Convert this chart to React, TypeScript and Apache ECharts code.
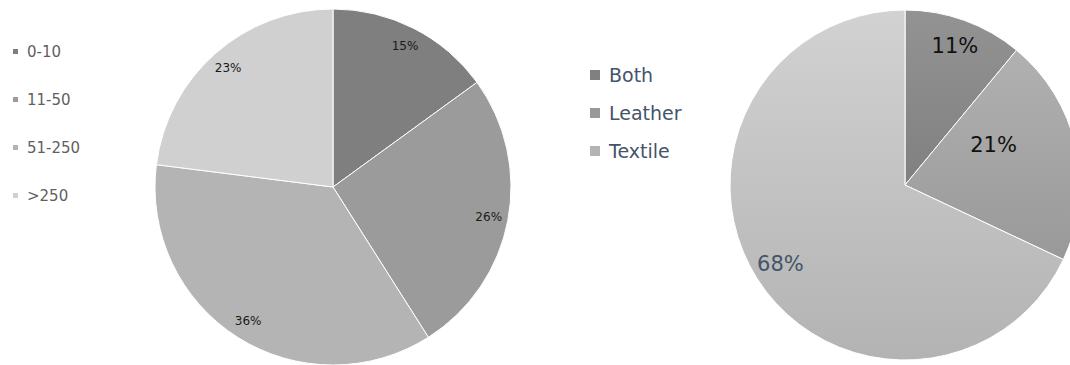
import React, { useEffect, useRef } from "react";
import * as echarts from "echarts";

const sizeCategories = ["0-10", "11-50", "51-250", ">250"];
const sizeValues = [15, 26, 36, 23];
const sizeColors = ["#7f7f7f", "#9b9b9b", "#b4b4b4", "#d0d0d0"];

const typeCategories = ["Both", "Leather", "Textile"];
const typeValues = [11, 21, 68];
const typeColorsTop = ["#939393", "#b1b1b1", "#d2d2d2"];
const typeColorsBottom = ["#808080", "#999999", "#b3b3b3"];
const typeLabelColors = ["#111111", "#111111", "#44546a"];

const FONT = "'DejaVu Sans', Verdana, sans-serif";

export default function App() {
  const ref = useRef<HTMLDivElement>(null);
  useEffect(() => {
    if (!ref.current) return;
    const chart = echarts.init(ref.current, null, { renderer: "svg" });
    const grad = (i: number) =>
      new echarts.graphic.LinearGradient(0, 0, 0, 1, [
        { offset: 0, color: typeColorsTop[i] },
        { offset: 1, color: typeColorsBottom[i] },
      ]);
    chart.setOption({
      animation: false,
      backgroundColor: "#ffffff",
      legend: [
        {
          orient: "vertical",
          left: 11,
          top: 44,
          itemWidth: 7,
          itemHeight: 7,
          itemGap: 33,
          icon: "rect",
          padding: 0,
          textStyle: {
            fontFamily: FONT,
            fontSize: 15,
            lineHeight: 15,
            color: "#5f5f5f",
            padding: [0, 0, 0, 3],
          },
          data: sizeCategories.map((n, i) => ({ name: n, itemStyle: { color: sizeColors[i] } })),
        },
        {
          orient: "vertical",
          left: 588,
          top: 65,
          itemWidth: 12,
          itemHeight: 12,
          itemGap: 18,
          icon: "rect",
          padding: 0,
          textStyle: {
            fontFamily: FONT,
            fontSize: 19,
            lineHeight: 20,
            color: "#44546a",
            padding: [0, 0, 0, 3],
          },
          data: typeCategories.map((n, i) => ({ name: n, itemStyle: { color: typeColorsBottom[i] } })),
        },
      ],
      series: [
        {
          type: "pie",
          center: [333, 187],
          radius: [0, 178],
          startAngle: 90,
          label: { show: false },
          labelLine: { show: false },
          itemStyle: { borderColor: "#ffffff", borderWidth: 1 },
          emphasis: { disabled: true },
          data: sizeCategories.map((n, i) => ({
            name: n,
            value: sizeValues[i],
            itemStyle: { color: sizeColors[i] },
          })),
        },
        {
          type: "pie",
          center: [333, 187],
          radius: [133, 178],
          startAngle: 90,
          silent: true,
          labelLine: { show: false },
          label: {
            show: true,
            position: "inside",
            formatter: "{d}%",
            fontFamily: FONT,
            fontSize: 12,
            color: "#1a1a1a",
          },
          itemStyle: { color: "rgba(0,0,0,0)" },
          data: sizeCategories.map((n, i) => ({ name: n + " ", value: sizeValues[i] })),
        },
        {
          type: "pie",
          center: [905, 185],
          radius: [0, 175],
          startAngle: 90,
          label: { show: false },
          labelLine: { show: false },
          itemStyle: { borderColor: "#ffffff", borderWidth: 1 },
          emphasis: { disabled: true },
          data: typeCategories.map((n, i) => ({
            name: n,
            value: typeValues[i],
            itemStyle: { color: grad(i) },
          })),
        },
        {
          type: "pie",
          center: [905, 185],
          radius: [112, 177],
          startAngle: 90,
          silent: true,
          labelLine: { show: false },
          label: {
            show: true,
            position: "inside",
            formatter: "{d}%",
            fontFamily: FONT,
            fontSize: 21,
          },
          itemStyle: { color: "rgba(0,0,0,0)" },
          data: typeCategories.map((n, i) => ({
            name: n + " ",
            value: typeValues[i],
            label: { show: i !== 1, color: typeLabelColors[i] },
          })),
        },
        {
          type: "pie",
          center: [905, 185],
          radius: [0, 194],
          startAngle: 90,
          silent: true,
          labelLine: { show: false },
          label: {
            show: true,
            position: "inside",
            formatter: "{d}%",
            fontFamily: FONT,
            fontSize: 21,
          },
          itemStyle: { color: "rgba(0,0,0,0)" },
          data: typeCategories.map((n, i) => ({
            name: n + "  ",
            value: typeValues[i],
            label: { show: i === 1, color: typeLabelColors[i], offset: [-9, -18] },
          })),
        },
      ],
    });
    return () => chart.dispose();
  }, []);
  return (
    <div
      ref={ref}
      style={{ position: "fixed", left: 0, top: 0, width: 1070, height: 365 }}
    />
  );
}
